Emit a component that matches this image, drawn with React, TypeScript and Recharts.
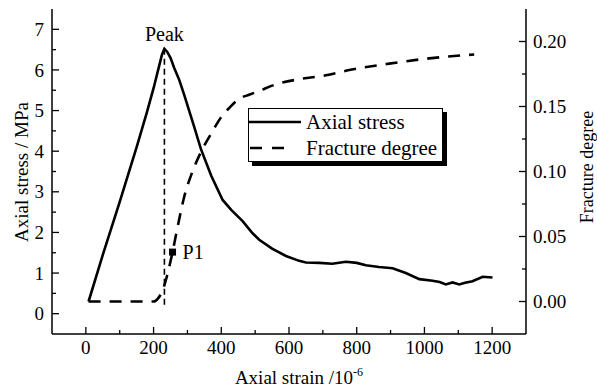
import React from 'react';
import {
  ComposedChart,
  Line,
  XAxis,
  YAxis,
  ReferenceLine,
  ReferenceDot,
  Legend,
  Label,
} from 'recharts';

// axial stress curve (strain in 1e-6, stress in MPa)
const stressStrain = [
  8, 50, 100, 150, 180, 200, 215, 225, 232, 240, 250, 261, 276, 290, 305, 320,
  340, 370, 404, 430, 463, 490, 512, 550, 591, 630, 650, 689, 728, 768, 800,
  827, 866, 906, 945, 985, 1024, 1045, 1063, 1083, 1103, 1120, 1142, 1172, 1201,
];
const stressValues = [
  0.3, 1.45, 2.75, 4.1, 4.95, 5.55, 6.05, 6.38, 6.52, 6.45, 6.3, 6.05, 5.75,
  5.4, 5.0, 4.6, 4.05, 3.4, 2.8, 2.55, 2.28, 2.0, 1.82, 1.6, 1.42, 1.3, 1.26,
  1.25, 1.23, 1.28, 1.25, 1.19, 1.15, 1.12, 1.0, 0.85, 0.81, 0.78, 0.72, 0.77,
  0.72, 0.76, 0.8, 0.91, 0.89,
];

// fracture degree curve
const fractureStrain = [
  8, 100, 200, 215, 226, 240, 256, 270, 290, 315, 340, 372, 400, 424, 453, 482,
  512, 561, 630, 709, 778, 896, 1014, 1147,
];
const fractureValues = [
  0, 0, 0, 0.003, 0.008, 0.02, 0.038, 0.056, 0.08, 0.1, 0.115, 0.13, 0.142,
  0.149, 0.156, 0.159, 0.162, 0.167, 0.171, 0.174, 0.178, 0.183, 0.187, 0.19,
];

const strainTicks = [0, 100, 200, 300, 400, 500, 600, 700, 800, 900, 1000, 1100, 1200];
const stressTicks = [0, 0.5, 1, 1.5, 2, 2.5, 3, 3.5, 4, 4.5, 5, 5.5, 6, 6.5, 7];
const fractureTicks = [0, 0.025, 0.05, 0.075, 0.1, 0.125, 0.15, 0.175, 0.2];
const seriesNames = ['Axial stress', 'Fracture degree'];
const p1 = { strain: 256, fracture: 0.038 };
const peakLineBottom = 0.2;

const stressData = stressStrain.map((s, i) => ({ strain: s, stress: stressValues[i] }));
const fractureData = fractureStrain.map((s, i) => ({ strain: s, fracture: fractureValues[i] }));
const peak = stressData[stressValues.indexOf(Math.max(...stressValues))];

const FONT = '"Liberation Serif", "Times New Roman", serif';

const BottomTick = ({ x, y, payload }: any) => {
  const major = payload.value % 200 === 0;
  return (
    <g>
      <line x1={x} y1={y} x2={x} y2={y - (major ? 7 : 4)} stroke="#000" strokeWidth={1.3} />
      {major && (
        <text x={x} y={y + 20} textAnchor="middle" fontFamily={FONT} fontSize={19} fill="#000">
          {payload.value}
        </text>
      )}
    </g>
  );
};

const TopTick = ({ x, y, payload }: any) => {
  const major = payload.value % 200 === 0;
  return <line x1={x} y1={y} x2={x} y2={y + (major ? 7 : 4)} stroke="#000" strokeWidth={1.3} />;
};

const LeftTick = ({ x, y, payload }: any) => {
  const major = Number.isInteger(payload.value);
  return (
    <g>
      <line x1={x} y1={y} x2={x + (major ? 7 : 4)} y2={y} stroke="#000" strokeWidth={1.3} />
      {major && (
        <text x={x - 8} y={y} dy="0.35em" textAnchor="end" fontFamily={FONT} fontSize={19} fill="#000">
          {payload.value}
        </text>
      )}
    </g>
  );
};

const RightTick = ({ x, y, payload }: any) => {
  const major = Math.round(payload.value * 1000) % 50 === 0;
  return (
    <g>
      <line x1={x} y1={y} x2={x - (major ? 7 : 4)} y2={y} stroke="#000" strokeWidth={1.3} />
      {major && (
        <text x={x + 7} y={y} dy="0.35em" textAnchor="start" fontFamily={FONT} fontSize={19} fill="#000">
          {payload.value.toFixed(2)}
        </text>
      )}
    </g>
  );
};

const LegendBox = () => (
  <div
    style={{
      width: 195,
      height: 54,
      boxSizing: 'border-box',
      border: '1px solid #000',
      background: '#fff',
      boxShadow: '4px 4px 0 #000',
      fontFamily: FONT,
      fontSize: 21,
      color: '#000',
    }}
  >
    {seriesNames.map((name, i) => (
      <div key={name} style={{ display: 'flex', alignItems: 'center', height: 26 }}>
        <svg width={57} height={10} style={{ flex: 'none' }}>
          {i === 0 ? (
            <line x1={0} y1={5} x2={52} y2={5} stroke="#000" strokeWidth={2.5} />
          ) : (
            <line x1={1} y1={5} x2={42} y2={5} stroke="#000" strokeWidth={2.5} strokeDasharray="12 10" />
          )}
        </svg>
        <span style={{ lineHeight: '26px', whiteSpace: 'nowrap' }}>{name}</span>
      </div>
    ))}
  </div>
);

export default function App() {
  return (
    <div style={{ position: 'absolute', left: 0, top: 0, background: '#fff' }}>
      <ComposedChart width={597} height={390} margin={{ top: 9, right: 0, bottom: 0, left: 0 }}>
        <XAxis
          xAxisId="bottom"
          type="number"
          dataKey="strain"
          domain={[-100, 1300]}
          ticks={strainTicks}
          interval={0}
          allowDataOverflow
          height={56}
          tickSize={0}
          tickMargin={0}
          tickLine={false}
          axisLine={{ stroke: '#000', strokeWidth: 1.5 }}
          tick={<BottomTick />}
        >
          <Label
            content={({ viewBox }: any) => (
              <text
                x={viewBox.x + viewBox.width / 2 + 10}
                y={viewBox.y + 50}
                textAnchor="middle"
                fontFamily={FONT}
                fontSize={19}
                fill="#000"
              >
                Axial strain /10
                <tspan dy={-8} fontSize={12}>
                  -6
                </tspan>
              </text>
            )}
          />
        </XAxis>
        <XAxis
          xAxisId="top"
          orientation="top"
          type="number"
          dataKey="strain"
          domain={[-100, 1300]}
          ticks={strainTicks}
          interval={0}
          allowDataOverflow
          height={0}
          tickSize={0}
          tickMargin={0}
          tickLine={false}
          axisLine={{ stroke: '#000', strokeWidth: 1.5 }}
          tick={<TopTick />}
        />
        <YAxis
          yAxisId="left"
          type="number"
          domain={[-0.5, 7.5]}
          ticks={stressTicks}
          interval={0}
          allowDataOverflow
          width={52}
          tickSize={0}
          tickMargin={0}
          tickLine={false}
          axisLine={{ stroke: '#000', strokeWidth: 1.5 }}
          tick={<LeftTick />}
        >
          <Label
            content={() => {
              const cx = 21;
              const cy = 172;
              return (
                <text
                  x={cx}
                  y={cy}
                  dy="0.35em"
                  transform={`rotate(-90, ${cx}, ${cy})`}
                  textAnchor="middle"
                  fontFamily={FONT}
                  fontSize={19}
                  fill="#000"
                >
                  Axial stress / MPa
                </text>
              );
            }}
          />
        </YAxis>
        <YAxis
          yAxisId="right"
          orientation="right"
          type="number"
          domain={[-0.025, 0.225]}
          ticks={fractureTicks}
          interval={0}
          allowDataOverflow
          width={71}
          tickSize={0}
          tickMargin={0}
          tickLine={false}
          axisLine={{ stroke: '#000', strokeWidth: 1.5 }}
          tick={<RightTick />}
        >
          <Label
            content={() => {
              const cx = 587;
              const cy = 167;
              return (
                <text
                  x={cx}
                  y={cy}
                  dy="0.35em"
                  transform={`rotate(-90, ${cx}, ${cy})`}
                  textAnchor="middle"
                  fontFamily={FONT}
                  fontSize={18}
                  fill="#000"
                >
                  Fracture degree
                </text>
              );
            }}
          />
        </YAxis>

        <ReferenceLine
          xAxisId="bottom"
          yAxisId="left"
          segment={[
            { x: peak.strain, y: peak.stress },
            { x: peak.strain, y: peakLineBottom },
          ]}
          stroke="#000"
          strokeWidth={1.6}
          strokeDasharray="6 4"
        />

        <Line
          xAxisId="bottom"
          yAxisId="right"
          data={fractureData}
          dataKey="fracture"
          name={seriesNames[1]}
          type="monotone"
          stroke="#000"
          strokeWidth={2.6}
          strokeDasharray="12 9"
          dot={false}
          isAnimationActive={false}
        />
        <Line
          xAxisId="bottom"
          yAxisId="left"
          data={stressData}
          dataKey="stress"
          name={seriesNames[0]}
          type="linear"
          stroke="#000"
          strokeWidth={2.6}
          dot={false}
          isAnimationActive={false}
        />

        <ReferenceDot
          xAxisId="bottom"
          yAxisId="left"
          x={peak.strain}
          y={peak.stress}
          r={0}
          fill="none"
          stroke="none"
          label={{ value: 'Peak', position: 'top', offset: 8, fontFamily: FONT, fontSize: 20, fill: '#000' }}
        />
        <ReferenceDot
          xAxisId="bottom"
          yAxisId="right"
          x={p1.strain}
          y={p1.fracture}
          r={4}
          shape={(p: any) => <rect x={p.cx - 3.5} y={p.cy - 3.5} width={7} height={7} fill="#000" />}
          label={{ value: 'P1', position: 'right', offset: 6, fontFamily: FONT, fontSize: 20, fill: '#000' }}
        />

        <Legend
          layout="horizontal"
          verticalAlign="middle"
          align="center"
          content={() => <LegendBox />}
          wrapperStyle={{ left: 248, top: 108, width: 'auto', height: 'auto' }}
        />
      </ComposedChart>
    </div>
  );
}
